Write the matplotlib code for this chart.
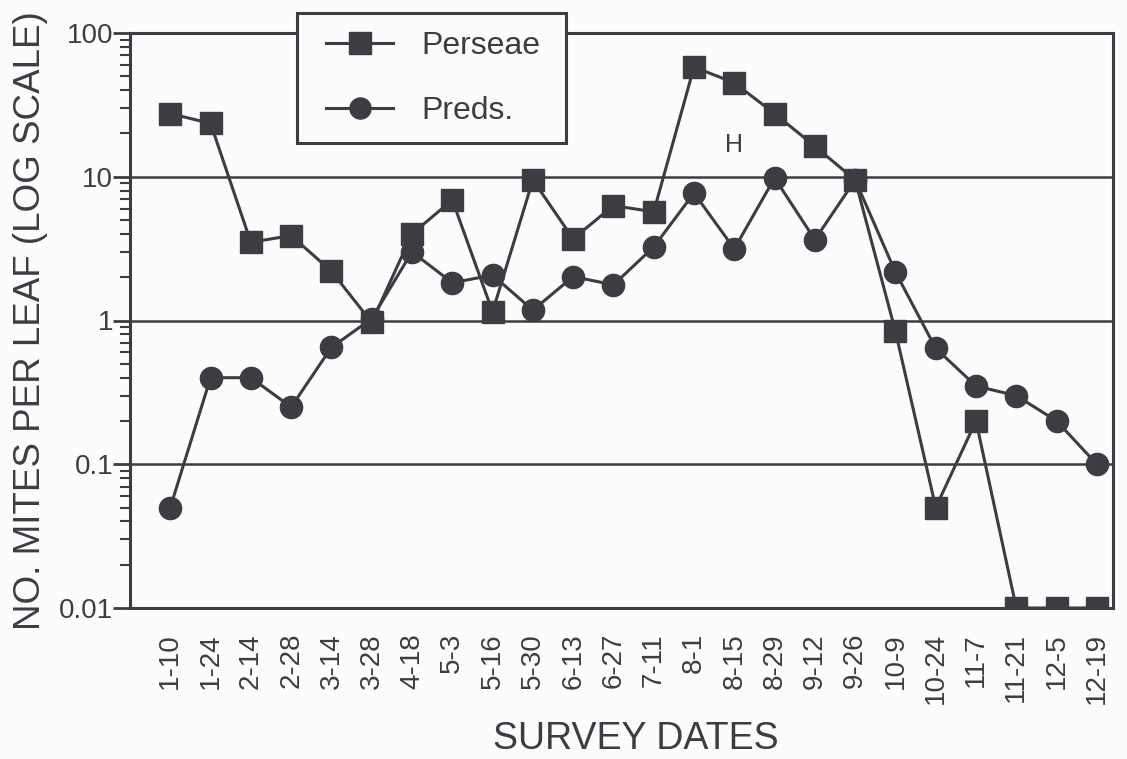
import matplotlib
matplotlib.use("Agg")
import matplotlib.pyplot as plt
from matplotlib.patches import Rectangle
from matplotlib.ticker import LogLocator, NullFormatter, FixedLocator, FixedFormatter

# survey dates and mite counts per leaf
dates = ["1-10", "1-24", "2-14", "2-28", "3-14", "3-28", "4-18", "5-3", "5-16",
         "5-30", "6-13", "6-27", "7-11", "8-1", "8-15", "8-29", "9-12", "9-26",
         "10-9", "10-24", "11-7", "11-21", "12-5", "12-19"]
perseae = [27.5, 23.5, 3.5, 3.9, 2.2, 0.97, 4.0, 6.9, 1.15, 9.5, 3.7, 6.3, 5.7,
           58, 45, 27.5, 16.3, 9.5, 0.84, 0.05, 0.2, 0.01, 0.01, 0.01]
preds = [0.05, 0.4, 0.4, 0.25, 0.65, 1.03, 3.0, 1.83, 2.07, 1.18, 2.02, 1.77, 3.25,
         7.7, 3.15, 9.8, 3.65, 9.5, 2.17, 0.64, 0.35, 0.30, 0.2, 0.1]

ink = "#3c3c42"
bg = "#fdfcfd"
plt.rcParams["font.family"] = ["Liberation Sans", "DejaVu Sans"]
plt.rcParams["text.color"] = ink
plt.rcParams["axes.labelcolor"] = ink
plt.rcParams["xtick.color"] = ink
plt.rcParams["ytick.color"] = ink

W, H = 1127, 759
fig = plt.figure(figsize=(W / 100, H / 100), dpi=100, facecolor=bg)
ax = fig.add_axes([130 / W, 1 - 608 / H, 983 / W, 575 / H])
ax.set_facecolor(bg)

x = list(range(len(dates)))
ax.plot(x, perseae, color=ink, lw=2.2, marker="s", ms=16, label="Perseae", zorder=3)
ax.plot(x, preds, color=ink, lw=2.2, marker="o", ms=16, label="Preds.", zorder=3)

ax.set_yscale("log")
ax.set_ylim(0.01, 100)
ax.set_xlim(-1.0, len(dates) - 0.6)
for v in [0.1, 1, 10]:
    ax.axhline(v, color=ink, lw=1.8, zorder=1)

ax.yaxis.set_major_locator(FixedLocator([0.01, 0.1, 1, 10, 100]))
ax.yaxis.set_major_formatter(FixedFormatter(["0.01", "0.1", "1", "10", "100"]))
ax.yaxis.set_minor_locator(LogLocator(base=10, subs=range(2, 10)))
ax.yaxis.set_minor_formatter(NullFormatter())
ax.tick_params(axis="y", which="major", length=12, width=2, labelsize=20, pad=0)
ax.tick_params(axis="y", which="minor", length=7, width=1.5)

ax.set_xticks(x)
ax.set_xticklabels(dates, rotation=90, fontsize=20)
ax.tick_params(axis="x", length=0, pad=18)

for s in ax.spines.values():
    s.set_linewidth(2.2)
    s.set_color(ink)

ax.set_ylabel("NO. MITES PER LEAF (LOG SCALE)", fontsize=26.5, labelpad=8)
ax.set_xlabel("SURVEY DATES", fontsize=27)
ax.xaxis.set_label_coords(0.515, -0.197)

ax.text(14, 16.6, "H", fontsize=18, ha="center", va="center")

# legend box drawn separately so its size can follow the original
ax.add_patch(Rectangle((297 / W, 1 - 143 / H), 269 / W, 130 / H,
                       transform=fig.transFigure, facecolor=bg, clip_on=False,
                       edgecolor=ink, lw=2.2, zorder=4))
leg = ax.legend(loc="upper left", bbox_to_anchor=(326 / W, 1 - 31 / H),
                bbox_transform=fig.transFigure, fontsize=23, frameon=False,
                handlelength=2.1, borderpad=0, labelspacing=1.1, handletextpad=0.9,
                borderaxespad=0, markerscale=0.95)
leg.set_zorder(5)

fig.savefig("out.png", dpi=100, facecolor=fig.get_facecolor())
